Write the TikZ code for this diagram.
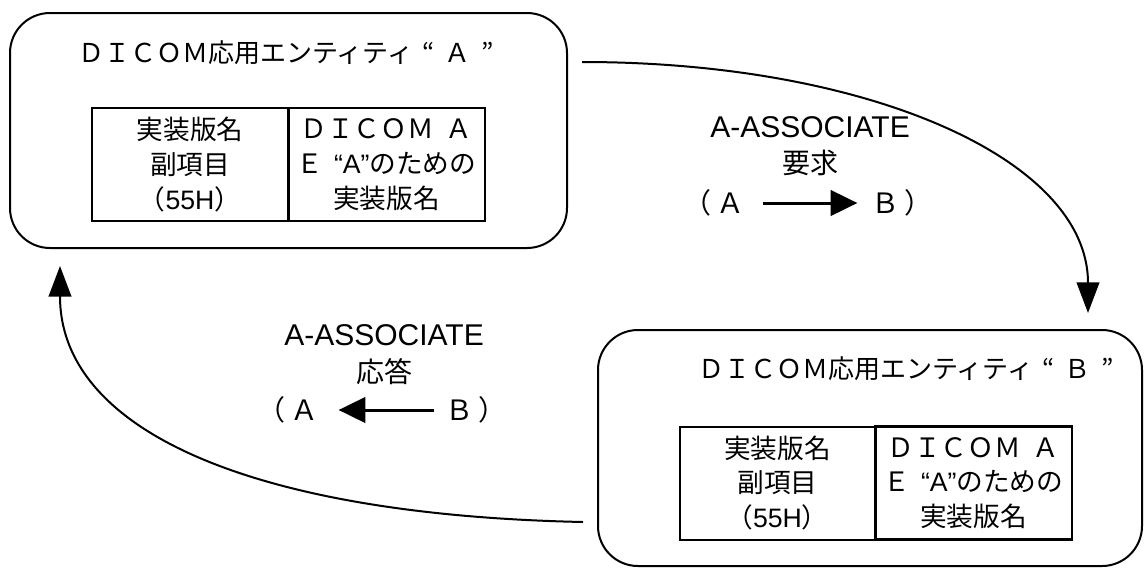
\documentclass[tikz,border=0pt]{standalone}
\usepackage{fontspec}
\setmainfont{Noto Sans CJK JP}
\newfontfamily\lat{Liberation Sans}
\usetikzlibrary{arrows.meta}
\begin{document}
\begin{tikzpicture}[x=0.75pt,y=-0.75pt,
  entity/.style={draw,line width=1.5pt,rounded corners=30pt,inner sep=0pt},
  cell/.style={draw,line width=1.5pt,inner sep=0pt,minimum width=147pt,minimum height=84.75pt,align=center,font=\fontsize{20pt}{26pt}\selectfont},
  ttl/.style={inner sep=0pt,font=\fontsize{19.5pt}{24pt}\selectfont},
  lbl/.style={inner sep=0pt,font=\fontsize{21pt}{26pt}\selectfont},
  latl/.style={inner sep=0pt,font=\lat\fontsize{22.5pt}{26pt}\selectfont},
  conn/.style={line width=1.5pt,-{Triangle[length=23pt,width=17pt]}},
  small/.style={line width=2.25pt,-{Triangle[length=20pt,width=19pt]}}]
\useasboundingbox (0,0) rectangle (1146,568);
% entity A
\node[entity,minimum width=417.75pt,minimum height=176.25pt] (boxA) at (288.5,130.5) {};
\node[ttl] (titleA) at (286,53) {ＤＩＣＯＭ応用エンティティ\hspace{0.35em}“\hspace{0.4em}Ａ\hspace{0.4em}”};
\node[cell] (cellA1) at (190,164.5) {実装版名\\副項目\\（{\lat 55H}）};
\node[cell] (cellA2) at (386.5,164.5) {ＤＩＣＯＭ\hspace{0.45em}Ａ\\Ｅ\hspace{0.4em}{\lat “A”}のための\\実装版名};
% entity B
\node[entity,minimum width=408pt,minimum height=177pt] (boxB) at (870,448) {};
\node[ttl] (titleB) at (906,369) {ＤＩＣＯＭ応用エンティティ\hspace{0.35em}“\hspace{0.4em}Ｂ\hspace{0.4em}”};
\node[cell] (cellB1) at (777.5,483) {実装版名\\副項目\\（{\lat 55H}）};
\node[cell,line width=2pt,minimum width=147.75pt] (cellB2) at (973.5,483) {ＤＩＣＯＭ\hspace{0.45em}Ａ\\Ｅ\hspace{0.4em}{\lat “A”}のための\\実装版名};
% request
\coordinate (reqS) at (582,62);
\coordinate (reqE) at (1088,313);
\draw[conn] (reqS) .. controls (870,62) and (1088,160) .. (reqE);
\node[latl] (reqL1) at (810,127) {A-ASSOCIATE};
\node[lbl] (reqL2) at (810,163) {要求};
\node[lbl] (reqA) at (714,203) {（\,Ａ};
\node[lbl] (reqB) at (902,203) {Ｂ\,）};
\draw[small,shorten <=13.5pt,shorten >=10.5pt] (reqA.east) -- (reqB.west);
% response
\coordinate (resS) at (583,522);
\coordinate (resE) at (60,266);
\draw[conn] (resS) .. controls (250,515) and (60,430) .. (resE);
\node[latl] (resL1) at (384,335) {A-ASSOCIATE};
\node[lbl] (resL2) at (384,372) {応答};
\node[lbl] (resA) at (288,410) {（\,Ａ};
\node[lbl] (resB) at (476,410) {Ｂ\,）};
\draw[small,shorten <=8.25pt,shorten >=15pt] (resB.west) -- (resA.east);
\end{tikzpicture}
\end{document}
